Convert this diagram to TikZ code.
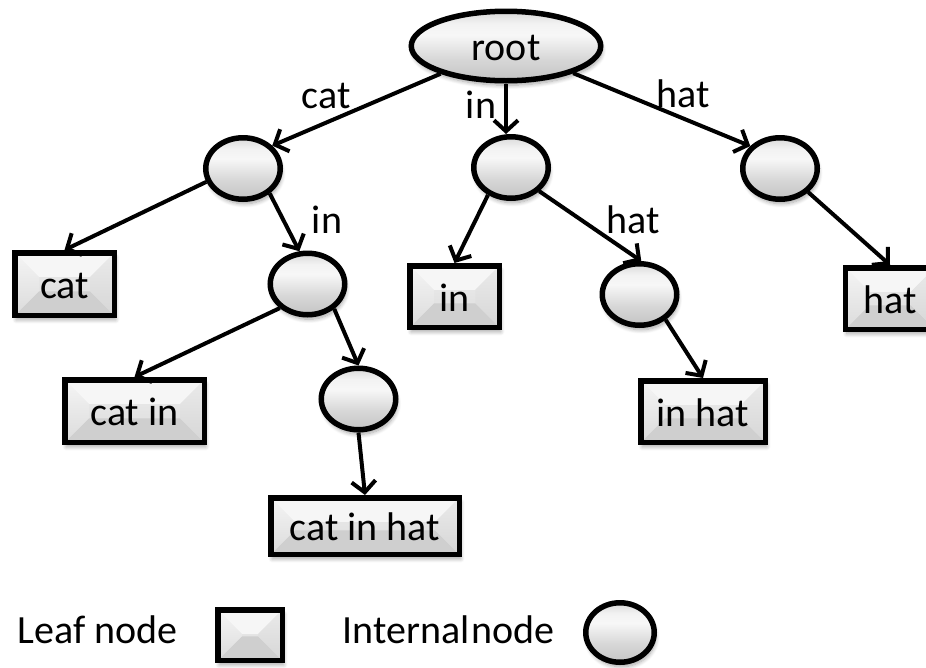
\documentclass[tikz,border=0pt]{standalone}
\usepackage{fontspec}
\setmainfont{Carlito}
\usetikzlibrary{shapes.geometric,arrows.meta,shadows.blur}

% glossy fill of the internal nodes (the shape is mapped onto 25bp..75bp)
\pgfdeclareverticalshading{orb}{100bp}{color(0bp)=(gray!46); color(25bp)=(gray!46);
  color(40bp)=(gray!32); color(58bp)=(gray!6); color(66bp)=(gray!10);
  color(75bp)=(gray!30); color(100bp)=(gray!30)}

\def\bvl{24pt}

\begin{document}
\begin{tikzpicture}[x=1pt,y=-1pt,
  every node/.style={font=\fontsize{40}{48}\selectfont},
  softshadow/.style={blur shadow={shadow xshift=1.5pt, shadow yshift=-4.5pt,
      shadow blur radius=4pt, shadow opacity=35, shadow blur steps=8}},
  orb/.style={ellipse, draw=black, line width=5.5pt, shade, shading=orb,
      inner sep=0pt, minimum width=74.5pt, minimum height=61.5pt,
      text height=29pt, text depth=0pt, softshadow},
  leaf/.style={rectangle, draw=black, line width=5.5pt, inner sep=0pt,
      text height=29pt, text depth=0pt, softshadow,
      path picture={
        \path (path picture bounding box.north west) coordinate (pNW)
              (path picture bounding box.north east) coordinate (pNE)
              (path picture bounding box.south west) coordinate (pSW)
              (path picture bounding box.south east) coordinate (pSE);
        \shade[top color=gray!14, bottom color=gray!28] (pNW) rectangle (pSE);
        \fill[gray!7] (pNW) -- (pNE) -- ([xshift=-\bvl,yshift=-\bvl]pNE)
              -- ([xshift=\bvl,yshift=-\bvl]pNW) -- cycle;
        \fill[gray!38] (pSW) -- (pSE) -- ([xshift=-\bvl,yshift=\bvl]pSE)
              -- ([xshift=\bvl,yshift=\bvl]pSW) -- cycle;
        \shade[top color=gray!8, bottom color=gray!28] (pNW)
              -- ([xshift=\bvl,yshift=-\bvl]pNW) -- ([xshift=\bvl,yshift=\bvl]pSW)
              -- (pSW) -- cycle;
        \shade[top color=gray!16, bottom color=gray!32] (pNE)
              -- ([xshift=-\bvl,yshift=-\bvl]pNE) -- ([xshift=-\bvl,yshift=\bvl]pSE)
              -- (pSE) -- cycle;
      }},
  link/.style={line width=4pt, -{Straight Barb[length=11pt,width=24pt]}},
  lab/.style={anchor=base, inner sep=0pt}
]
\useasboundingbox (0,0) rectangle (926,667);

% internal nodes
\node[orb, minimum width=189.5pt, minimum height=69.5pt] (root) at (506,46) {root};
\node[orb] (L1) at (243,168.5) {};
\node[orb] (M1) at (511,167.5) {};
\node[orb] (R1) at (780,168.5) {};
\node[orb] (L2) at (307.5,284) {};
\node[orb] (L3) at (358.5,399) {};
\node[orb] (H2) at (639.5,294.5) {};

% leaf nodes
\node[leaf, minimum width=99.5pt,  minimum height=62.5pt] (cat)    at (64.5,284)   {cat};
\node[leaf, minimum width=89.5pt,  minimum height=61.5pt] (in)     at (454.5,296.5) {in};
\node[leaf, minimum width=89.5pt,  minimum height=61.5pt] (hat)    at (890,298.5)  {hat};
\node[leaf, minimum width=139.5pt, minimum height=62.5pt] (catin)  at (134.5,411)  {cat in};
\node[leaf, minimum width=124.5pt, minimum height=61.5pt] (inhat)  at (703,411.5)  {in hat};
\node[leaf, minimum width=188.5pt, minimum height=56.5pt] (catinhat) at (365,526)  {cat in hat};

% connectors
\draw[link] (root.203) -- (L1.38);
\draw[link] (root.south) -- (root.south |- M1.north);
\draw[link] (root.-22) -- (R1.143);
\draw[link] (L1.200) -- (cat.north);
\draw[link] (L1.-43) -- (L2.104);
\draw[link] (M1.230) -- (in.north);
\draw[link] (M1.-40) -- (H2.87);
\draw[link] (R1.-40) -- (hat.north);
\draw[link] (L2.221) -- (catin.north);
\draw[link] (L2.-43) -- (L3.north);
\draw[link] (L3.south) -- (catinhat.north);
\draw[link] (H2.-44) -- (inhat.north);

% edge labels
\node[lab] (lcat)  at (326,108)   {cat};
\node[lab] (lin)   at (481,118)   {in};
\node[lab] (lhat)  at (683.5,107) {hat};
\node[lab] (lin2)  at (327,233)   {in};
\node[lab] (lhat2) at (633,233)   {hat};

% legend
\node[lab] (legleaf) at (97.5,643) {Leaf node};
\node[leaf, minimum width=64.5pt, minimum height=50.5pt] (legbox) at (250,635) {};
\node[lab] (legint) at (448.5,643) {\spaceskip=0.04em Internal node};
\node[orb, minimum width=68.5pt, minimum height=59.5pt] (legorb) at (620,632.5) {};
\end{tikzpicture}
\end{document}
